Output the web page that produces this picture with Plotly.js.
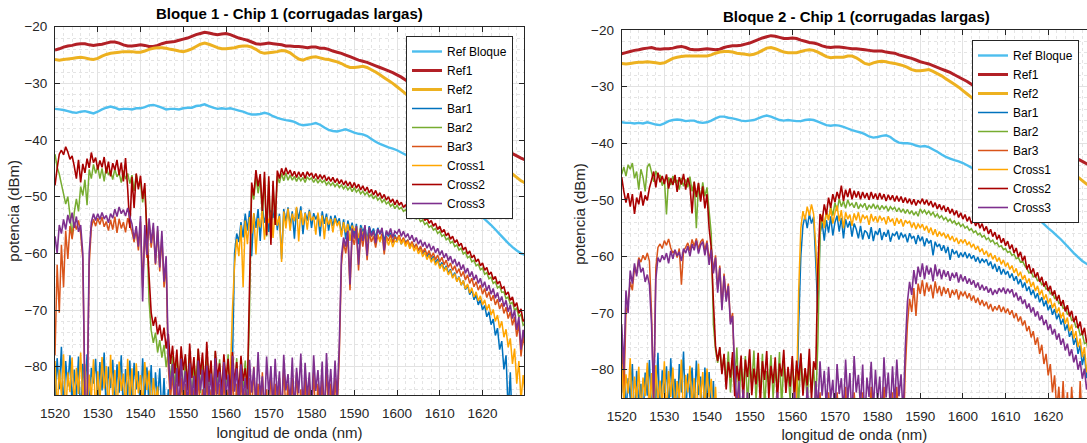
<!DOCTYPE html>
<html><head><meta charset="utf-8">
<script src="https://cdn.plot.ly/plotly-3.0.1.min.js"></script>
<style>html,body{margin:0;padding:0;background:#fff}#chart{width:1087px;height:443px}</style>
</head><body><div id="chart"></div>
<script>
// ---------- series names / colours ----------
const seriesNames = ['Ref Bloque','Ref1','Ref2','Bar1','Bar2','Bar3','Cross1','Cross2','Cross3'];
const seriesColors = ['#4DBEEE','#B22026','#EDB120','#0072BD','#77AC30','#D95319','#FFA500','#A80000','#7E2F8E'];
const chartTitles = ['Bloque 1 - Chip 1 (corrugadas largas)','Bloque 2 - Chip 1 (corrugadas largas)'];
const xLabel = 'longitud de onda (nm)';
const yLabel = 'potencia (dBm)';
// wavelength sampling of the read values (nm)
const refStart = 1520, refStep = 1;     // reference curves: one value per nm
const scanStart = 1520, scanStep = 0.5; // device curves: one value per 0.5 nm

// ---------- Bloque 1 ----------
const L_refBloque = [-34.5,-34.6,-34.7,-34.9,-35.1,-35.2,-35.0,-34.9,-35.1,-35.3,-35.0,-34.6,-34.3,-34.1,-34.3,-34.6,-34.5,-34.5,-34.6,-34.4,-34.4,-34.2,-33.9,-33.8,-34.0,-34.3,-34.6,-34.5,-34.5,-34.6,-34.4,-34.3,-34.3,-34.0,-33.9,-33.7,-34.0,-34.3,-34.5,-34.4,-34.5,-34.4,-34.6,-34.8,-35.0,-35.3,-35.5,-35.5,-35.4,-35.2,-35.4,-35.8,-36.1,-36.3,-36.5,-36.6,-36.8,-37.2,-37.4,-37.3,-37.2,-37.0,-37.3,-37.8,-38.2,-38.4,-38.5,-38.3,-38.1,-38.4,-38.7,-38.9,-39.0,-39.3,-39.8,-40.3,-40.7,-41.0,-41.3,-41.5,-41.8,-42.2,-42.6,-43.0,-43.5,-44.0,-44.5,-45.0,-45.6,-46.2,-46.8,-47.4,-48.0,-48.6,-49.3,-50.0,-50.8,-51.5,-52.3,-53.0,-53.6,-54.3,-55.0,-55.8,-56.6,-57.4,-58.2,-58.9,-59.5,-60.0,-60.3];
const L_ref1 = [-24.1,-23.9,-23.6,-23.4,-23.3,-23.1,-23.0,-23.0,-23.2,-23.3,-23.2,-23.1,-22.9,-22.7,-22.7,-22.9,-23.2,-23.4,-23.4,-23.3,-23.2,-23.3,-23.5,-23.5,-23.3,-23.0,-22.8,-22.7,-22.6,-22.4,-22.2,-22.0,-21.7,-21.4,-21.2,-21.0,-21.1,-21.3,-21.4,-21.3,-21.2,-21.4,-21.7,-22.0,-22.2,-22.4,-22.7,-23.0,-23.1,-23.0,-22.9,-23.0,-23.1,-23.2,-23.4,-23.4,-23.5,-23.5,-23.6,-23.7,-23.6,-23.6,-23.8,-23.8,-24.0,-24.3,-24.5,-24.7,-25.0,-25.3,-25.6,-25.9,-26.1,-26.3,-26.6,-26.9,-27.2,-27.5,-27.8,-28.1,-28.5,-28.9,-29.4,-29.9,-30.4,-30.9,-31.4,-31.9,-32.4,-32.9,-33.4,-33.9,-34.4,-35.0,-35.6,-36.2,-36.8,-37.4,-38.0,-38.6,-39.2,-39.8,-40.4,-40.9,-41.4,-41.8,-42.1,-42.4,-42.8,-43.2,-43.5];
const L_ref2 = [-25.8,-25.9,-25.8,-25.7,-25.6,-25.5,-25.4,-25.5,-25.7,-25.8,-25.6,-25.2,-24.9,-24.7,-24.6,-24.5,-24.4,-24.4,-24.4,-24.5,-24.5,-24.3,-24.0,-23.8,-23.7,-23.7,-23.8,-24.0,-24.1,-24.3,-24.4,-24.2,-23.9,-23.5,-23.1,-22.9,-23.1,-23.4,-23.7,-23.9,-23.9,-23.8,-23.7,-23.5,-23.4,-23.4,-23.6,-24.0,-24.5,-24.7,-24.6,-24.5,-24.4,-24.2,-24.3,-24.6,-25.2,-25.7,-25.9,-25.6,-25.4,-25.3,-25.5,-25.7,-25.8,-26.0,-26.2,-26.5,-26.9,-27.2,-27.2,-27.1,-27.0,-27.2,-27.6,-28.0,-28.5,-29.0,-29.5,-30.0,-30.6,-31.2,-31.8,-32.4,-33.0,-33.6,-34.2,-34.8,-35.4,-36.0,-36.6,-37.2,-37.8,-38.4,-39.0,-39.6,-40.2,-40.8,-41.4,-42.0,-42.5,-43.0,-43.5,-44.0,-44.5,-45.0,-45.5,-46.0,-46.6,-47.2,-47.6];
const L_bar1 = [
-86,-78.5,-84,-76.5,-88,-79,-83.5,-78,-87,-80.5,
-85.5,-78.2,-90,-79.5,-84.5,-77.8,-88,-80.2,-83,-78.6,
-86.5,-79.2,-84.2,-77.5,-89,-80,-83.8,-78.8,-87.5,-79.6,
-84.6,-78,-88.5,-80.4,-85.2,-78.9,-86.8,-79.3,-84,-80.8,
-88.2,-78.5,-85.8,-80.1,-87,-79.7,-89.5,-81,-86,-80.3,
-88.8,-82,-90,-84,-92,-86,-93,-88,-92,-90,
-93,-90,-94,-91,-95,-92,-94,-90,-95,-92,
-94,-91,-95,-90,-93,-92,-95,-91,-94,-90,
-93,-89,-86,-80,-60,-56.5,-58,-54.5,-57.2,-53,
-56,-52.5,-60.5,-53,-55.5,-52.2,-57.8,-51.8,-54.6,-52.9,
-56.2,-52.4,-53.8,-51.6,-55.9,-53,-61,-52.2,-54.4,-51.9,
-55,-52.6,-57.4,-52,-53.9,-51.7,-56.6,-52.8,-54.2,-52.3,
-55.5,-52.9,-54,-53.1,-57,-52.6,-54.8,-53,-56,-53.4,
-55.2,-53.3,-54.7,-53.8,-56.8,-54,-57.5,-54.2,-56,-54.6,
-56.8,-54.8,-58.4,-55,-56.2,-55.3,-57.6,-55.2,-56.5,-55.6,
-57.3,-55.5,-56.6,-55.9,-57.8,-56.2,-57,-56.4,-58.2,-56.7,
-57.8,-57,-58.4,-57.4,-58,-57.7,-59,-58.1,-58.8,-58.6,
-59.5,-59,-60.1,-59.5,-60.6,-60,-61.2,-60.5,-61.7,-61,
-62.3,-61.6,-62.9,-62.2,-63.5,-62.8,-64.2,-63.4,-64.9,-64.1,
-65.6,-64.8,-66.4,-65.6,-67.3,-66.4,-68.2,-67.3,-69.1,-68.2,
-70,-69.2,-71.2,-70.3,-72.6,-71.6,-74.5,-73.2,-77,-75.5,
-80.5,-78,-88,-81,-92,-86,-95,-90,-95,-92,
-95];
const L_bar2 = [
-42.5,-44.8,-46,-47.8,-49.5,-51.3,-50,-53.2,-57.2,-52.8,
-50.4,-52.6,-48.2,-49.8,-47,-51.5,-45.2,-46.8,-44.3,-45.9,
-44.6,-46.8,-45,-47.3,-44.7,-46.2,-45.5,-47,-45.1,-46.5,
-45.8,-47.5,-45.4,-46.9,-45.9,-47.7,-46.2,-49,-46,-48.3,
-47.4,-51,-48.5,-56,-68.5,-73.6,-75.8,-74,-77.5,-75.3,
-78.4,-76.2,-80.1,-77.5,-82.6,-78.1,-84,-77.9,-82.8,-79.5,
-85.5,-78.4,-83.1,-77.6,-86.2,-79.1,-82.4,-76.9,-84.7,-78.8,
-86.4,-78,-83.3,-79.6,-87.1,-77.3,-84.5,-78.7,-85.9,-79.9,
-83.2,-77.8,-86.8,-79.2,-84.1,-78.5,-87.3,-80,-83.6,-78.9,
-85,-70,-48.6,-50.5,-46.4,-49.4,-47,-53.5,-46.6,-57,
-47.3,-57.5,-48,-54.6,-46.4,-47.6,-45.9,-47.2,-45.8,-47.1,
-46.2,-47.1,-46.4,-47.3,-46.5,-47.2,-46.6,-47.5,-46.5,-47,
-46.7,-47.5,-46.8,-47.6,-47,-47.5,-47.1,-47.9,-47.4,-48,
-47.5,-48.2,-47.7,-48.4,-47.9,-48.6,-48.1,-48.8,-48.3,-49.1,
-48.4,-49.2,-48.7,-49.5,-49,-49.7,-49.2,-50,-49.6,-50.4,
-49.8,-50.6,-50.2,-51,-50.5,-51.3,-50.9,-51.7,-51.3,-52.1,
-51.5,-52.2,-51.9,-52.6,-52.3,-53.1,-52.7,-53.5,-53.2,-53.9,
-53.6,-54.4,-54.1,-54.9,-54.6,-55.4,-55.1,-55.9,-55.6,-56.5,
-56.1,-57,-56.7,-57.6,-57.3,-58.2,-57.9,-58.8,-58.5,-59.4,
-59.1,-60.1,-59.8,-60.8,-60.5,-61.5,-61.2,-62.2,-61.9,-62.9,
-62.6,-63.7,-63.4,-64.5,-64.2,-65.3,-65,-66.1,-65.8,-66.9,
-66.8,-68,-67.7,-69,-68.6,-70.1,-69.6,-71.3,-70.7,-72.7,
-72.4];
const L_bar3 = [
-78,-62,-70.5,-58.5,-66,-56,-61,-55.2,-57.5,-54.6,
-55.8,-54.2,-56.5,-61,-86,-88,-62,-55.5,-54,-55.2,
-53.8,-54.9,-53.6,-55.3,-54.4,-56,-54.1,-55.8,-53.5,-56.4,
-53.9,-55.6,-54.5,-56.3,-53.8,-55,-56.2,-58,-55.8,-59.5,
-54.4,-66,-56.1,-60.8,-54.5,-59,-55.5,-62,-56,-63.2,
-57,-66,-62,-80,-86,-81,-89,-83,-90,-82,
-88,-83,-91,-82,-89,-84,-92,-81,-88,-84,
-90,-82,-88,-84,-91,-81,-89,-83,-90,-82,
-88,-84,-91,-81,-89,-83,-90,-82,-88,-84,
-91,-82,-89,-80,-88,-83,-90,-81,-89,-84,
-90,-81,-88,-83,-91,-82,-89,-80,-88,-83,
-90,-82,-89,-81,-88,-84,-91,-82,-89,-83,
-88,-81,-90,-83,-89,-82,-91,-80,-88,-83,
-90,-82,-88,-78,-62,-58,-60,-57,-66.5,-56.8,
-58.5,-56.2,-63,-56.6,-58.8,-56,-61.2,-56.4,-58,-57,
-59,-56.8,-57.6,-56.5,-60.2,-57,-57.8,-56.7,-58.1,-57.1,
-57.5,-56.8,-58,-57.2,-58.3,-57.6,-58.7,-57.9,-59.1,-58.3,
-59.5,-58.7,-59.9,-59.1,-60.3,-59.5,-60.7,-59.9,-61.1,-60.3,
-61.5,-60.7,-62,-61.2,-62.5,-61.7,-63,-62.2,-63.5,-62.7,
-64.1,-63.2,-64.7,-63.8,-65.3,-64.4,-65.9,-65,-66.5,-65.6,
-67.2,-66.2,-67.8,-66.8,-68.4,-67.4,-69.1,-68.1,-69.8,-68.8,
-70.6,-69.5,-71.5,-70.3,-72.7,-71.2,-74.7,-72.4,-78.2,-74.7,
-77];
const L_cross1 = [
-79,-88,-80.5,-85,-77.8,-89,-81,-84.5,-78.4,-87,
-80.2,-84.8,-77.5,-86.5,-79.6,-90,-81.4,-85.6,-78.7,-88.4,
-80.8,-86.2,-78.3,-83.9,-79.9,-88.6,-77.9,-85.1,-80.6,-89.2,
-79.1,-84.3,-81.2,-87.7,-78.6,-85.9,-80.3,-89.8,-79.4,-84.7,
-81.5,-87.4,-79.2,-84.1,-80.7,-88.9,-82,-86.3,-83.5,-90,
-85,-91,-88,-93,-90,-94,-92,-95,-93,-94,
-95,-92,-94,-93,-95,-91,-94,-92,-95,-93,
-94,-92,-95,-91,-94,-93,-95,-92,-94,-91,
-92,-88,-82,-70,-62,-57.5,-60.5,-55,-66,-54.2,
-58.4,-53.6,-56.5,-52.9,-60.2,-53.8,-55.4,-52.5,-57.6,-53.1,
-54.6,-52.8,-57.3,-52,-55.1,-53.4,-61.5,-52.6,-55.6,-52.1,
-56,-53,-54.3,-51.8,-57.9,-52.4,-55,-52.9,-55.8,-52.6,
-54.2,-53.5,-56.7,-52.8,-55.3,-53.3,-57.5,-53.6,-54.9,-53.9,
-56.3,-53.8,-55.2,-54.3,-57.1,-54.5,-56.3,-54.8,-57.8,-55.1,
-56,-55.2,-57.3,-55.5,-56.8,-55.8,-58,-56,-57.1,-56.3,
-57.6,-56.6,-58,-56.9,-58.4,-57.2,-58.6,-57.4,-58.9,-57.8,
-58,-57.1,-58.4,-57.5,-58.8,-57.9,-59.2,-58.3,-59.6,-58.8,
-60.1,-59.3,-60.6,-59.8,-61.1,-60.3,-61.6,-60.8,-62.1,-61.3,
-62.7,-61.9,-63.2,-62.4,-63.8,-63,-64.4,-63.6,-65,-64.2,
-65.6,-64.8,-66.3,-65.4,-67,-66.1,-67.7,-66.8,-68.4,-67.5,
-69.1,-68.2,-70,-69,-70.9,-69.9,-72,-70.9,-73.2,-72,
-74.8,-73.4,-76.6,-75,-79.5,-76.8,-83,-79,-86,-81.5,
-85];
const L_cross2 = [
-48,-45,-42.5,-41.8,-42.6,-41.2,-42.1,-43.4,-42.8,-44.6,
-46.8,-43.5,-47.5,-44.2,-45.8,-43.3,-44.9,-42.2,-44,-43.1,
-45.2,-43.6,-44.8,-43,-45.9,-43.8,-46.4,-44.1,-45.3,-43.5,
-46.2,-44,-47.3,-43.2,-48.6,-55.5,-46.5,-52,-45.9,-48.7,
-46.3,-50.4,-47.6,-56.8,-64,-70.5,-72.8,-71.2,-74.3,-72.6,
-75.4,-73.1,-76.8,-74.2,-79.5,-76.3,-81.2,-77,-83.5,-76.4,
-80.6,-77.8,-84.2,-75.9,-82,-78.3,-85.5,-76.8,-81.4,-77.5,
-83.8,-75.6,-82.7,-78.9,-86,-77.2,-81.9,-79.4,-84.6,-77.8,
-82.3,-78.6,-85.2,-77.4,-83,-79.2,-84.8,-78.1,-82.5,-80.3,
-84,-66,-47.5,-49.8,-45.3,-48.2,-46,-52.5,-45.6,-56.8,
-46.4,-58.5,-47.2,-55,-45.4,-46.8,-45,-46.2,-44.9,-46,
-45.3,-46.4,-45.5,-46.6,-45.6,-46.5,-45.7,-46.8,-45.6,-46.3,
-45.8,-46.8,-45.9,-46.9,-46.1,-46.8,-46.2,-47.2,-46.5,-47.3,
-46.6,-47.5,-46.8,-47.7,-47,-47.9,-47.2,-48.1,-47.4,-48.4,
-47.5,-48.5,-47.8,-48.8,-48.1,-49,-48.3,-49.3,-48.7,-49.7,
-48.9,-49.9,-49.3,-50.3,-49.6,-50.6,-50,-51,-50.4,-51.4,
-50.6,-51.5,-51,-51.9,-51.4,-52.4,-51.8,-52.8,-52.3,-53.2,
-52.7,-53.7,-53.2,-54.2,-53.7,-54.7,-54.2,-55.2,-54.7,-55.8,
-55.2,-56.3,-55.8,-56.9,-56.4,-57.5,-57,-58.1,-57.6,-58.7,
-58.2,-59.4,-58.9,-60.1,-59.6,-60.8,-60.3,-61.5,-61,-62.2,
-61.7,-63,-62.5,-63.8,-63.3,-64.6,-64.1,-65.4,-64.9,-66.2,
-65.9,-67.3,-66.8,-68.3,-67.7,-69.4,-68.7,-70.6,-69.8,-72,
-71.5];
const L_cross3 = [
-57,-60,-55,-56.5,-54,-55.8,-53.2,-54.7,-52.8,-55.5,
-53.5,-56.2,-55,-60,-85,-88,-60,-54.5,-53,-54.2,
-53,-54,-52.8,-53.9,-53.3,-54.6,-53,-53.8,-52.2,-53.5,
-51.8,-53,-52.3,-53.4,-52,-53.6,-54.8,-57.5,-55.2,-58.8,
-53.4,-68.5,-55,-60.3,-53.8,-58.2,-54.6,-61.8,-55.2,-62.5,
-56,-65,-60.5,-78,-84,-79.5,-86,-80.2,-88,-78.6,
-84.5,-80.8,-87.2,-79.4,-85.8,-81.6,-89,-78.9,-84.2,-80.5,
-87.6,-79.8,-85.3,-81.2,-88.4,-78.5,-84.9,-80.9,-86.7,-79.2,
-85.1,-81.4,-88.9,-78.1,-84.4,-80.3,-87.2,-79.6,-85.6,-82,
-88.2,-78.8,-84.6,-80.1,-86.9,-77.4,-85.3,-81.7,-88.5,-78.2,
-84.9,-79.9,-87.4,-78.6,-85.8,-80.8,-89.1,-77.9,-84.2,-81.3,
-86.6,-78.4,-88,-80.2,-84.7,-77.7,-87.8,-79.3,-85.4,-81,
-88.7,-78,-84.3,-80.6,-86.2,-79.1,-89.4,-77.6,-85,-80.4,
-87.1,-78.9,-85.8,-76,-60.5,-57.2,-58.8,-56,-65.5,-55.6,
-57.4,-55.2,-62,-55.6,-57.8,-55,-60.4,-55.4,-57,-56,
-58.2,-55.7,-56.6,-55.5,-59.5,-56,-56.8,-55.6,-57.2,-56.1,
-56.5,-55.7,-57,-56.1,-57.2,-56.5,-57.6,-56.8,-58,-57.2,
-58.4,-57.6,-58.8,-58,-59.1,-58.3,-59.5,-58.7,-59.9,-59.1,
-60.3,-59.5,-60.8,-60,-61.3,-60.5,-61.8,-61,-62.3,-61.5,
-62.9,-62,-63.5,-62.6,-64.1,-63.2,-64.7,-63.8,-65.3,-64.4,
-66,-65,-66.6,-65.6,-67.2,-66.2,-67.9,-66.9,-68.6,-67.6,
-69.4,-68.3,-70.3,-69.1,-71.5,-70,-73.5,-71.2,-77,-73.5,
-76];

// ---------- Bloque 2 ----------
const R_refBloque = [-36.3,-36.4,-36.4,-36.5,-36.4,-36.5,-36.3,-36.5,-36.7,-36.8,-36.5,-36.1,-35.9,-35.8,-35.9,-36.1,-36.0,-36.0,-36.3,-36.4,-36.3,-36.0,-35.6,-35.3,-35.3,-35.5,-35.6,-35.8,-36.0,-36.1,-36.0,-35.9,-35.6,-35.3,-35.1,-35.3,-35.6,-35.9,-36.0,-35.9,-36.0,-36.1,-36.1,-35.9,-35.8,-35.9,-36.2,-36.5,-36.8,-36.9,-36.8,-36.9,-37.1,-37.4,-37.7,-37.9,-38.1,-38.4,-38.8,-39.0,-38.9,-38.7,-38.6,-38.9,-39.5,-39.9,-40.0,-40.0,-40.1,-40.4,-40.6,-40.5,-40.7,-41.1,-41.5,-42.0,-42.4,-42.7,-43.0,-43.2,-43.5,-43.9,-44.3,-44.8,-45.3,-45.8,-46.3,-46.8,-47.4,-48.0,-48.6,-49.2,-49.8,-50.4,-51.0,-51.7,-52.3,-52.9,-53.6,-54.3,-55.0,-55.6,-56.3,-57.0,-57.8,-58.6,-59.4,-60.1,-60.8,-61.3,-61.7];
const R_ref1 = [-24.2,-24.0,-23.8,-23.6,-23.5,-23.3,-23.2,-23.1,-23.3,-23.4,-23.3,-23.3,-23.2,-23.0,-22.9,-23.1,-23.4,-23.5,-23.5,-23.4,-23.3,-23.4,-23.5,-23.4,-23.1,-22.9,-22.8,-22.8,-22.7,-22.5,-22.3,-22.0,-21.7,-21.4,-21.2,-21.0,-21.1,-21.3,-21.5,-21.5,-21.4,-21.5,-21.8,-22.0,-22.2,-22.3,-22.5,-22.8,-23.0,-23.1,-23.0,-23.0,-23.1,-23.2,-23.3,-23.3,-23.4,-23.5,-23.6,-23.7,-23.7,-23.7,-23.9,-24.0,-24.1,-24.4,-24.6,-24.8,-25.0,-25.3,-25.6,-25.8,-26.0,-26.3,-26.6,-26.9,-27.2,-27.5,-27.9,-28.3,-28.7,-29.1,-29.6,-30.1,-30.6,-31.1,-31.6,-32.1,-32.6,-33.1,-33.6,-34.1,-34.6,-35.2,-35.8,-36.4,-37.0,-37.6,-38.2,-38.8,-39.4,-40.0,-40.5,-41.0,-41.5,-42.0,-42.4,-42.8,-43.2,-43.6,-44.0];
const R_ref2 = [-25.9,-26.0,-25.9,-25.8,-25.7,-25.7,-25.6,-25.7,-25.8,-25.9,-25.8,-25.4,-25.0,-24.8,-24.7,-24.6,-24.6,-24.6,-24.6,-24.6,-24.6,-24.4,-24.1,-23.9,-23.8,-23.8,-23.9,-24.1,-24.2,-24.3,-24.4,-24.3,-24.0,-23.6,-23.2,-23.1,-23.3,-23.6,-23.9,-24.0,-24.0,-24.0,-23.8,-23.6,-23.5,-23.6,-23.9,-24.3,-24.7,-24.9,-24.8,-24.8,-24.8,-24.6,-24.6,-24.9,-25.4,-25.9,-26.1,-25.8,-25.6,-25.5,-25.6,-25.8,-25.9,-26.1,-26.3,-26.6,-27.0,-27.2,-27.2,-27.1,-27.0,-27.3,-27.7,-28.1,-28.6,-29.1,-29.6,-30.1,-30.7,-31.3,-31.9,-32.5,-33.1,-33.7,-34.3,-34.9,-35.5,-36.1,-36.7,-37.3,-37.9,-38.5,-39.1,-39.7,-40.3,-40.9,-41.5,-42.0,-42.5,-43.0,-43.5,-44.0,-44.5,-45.0,-45.5,-46.0,-46.6,-47.2,-47.6];
const R_bar1 = [
-84,-77.8,-88,-81.5,-85,-79,-90,-80.2,-86,-82.5,
-89,-80.5,-84.6,-78.3,-88.2,-81,-85.4,-77,-89.5,-80.1,
-84.2,-79.4,-87.6,-78,-85.5,-81.6,-89.4,-79,-84,-76.8,
-88.7,-80.7,-85,-79.6,-87.3,-78.4,-84.5,-81.2,-89.8,-79.6,
-86,-80.4,-88.5,-82,-91,-85,-93,-88,-94,-90,
-93,-90,-95,-91,-94,-92,-95,-90,-94,-92,
-95,-91,-94,-92,-95,-90,-94,-91,-95,-92,
-94,-90,-95,-92,-94,-91,-95,-90,-94,-92,
-95,-91,-88,-72,-60,-54.5,-52.8,-55,-52.5,-54.2,
-53,-61,-70,-56,-54,-57.2,-53.6,-55.8,-52.9,-56.3,
-54,-52.8,-55.6,-53.2,-56.8,-53.4,-54.9,-53.8,-56.5,-54.2,
-55.2,-56.8,-54.6,-57,-55.4,-55.8,-56.9,-54.8,-57.3,-55.5,
-56.2,-55,-57.1,-55.7,-56.5,-55.3,-57.4,-56,-56.3,-55.6,
-57,-55.8,-56.6,-56.1,-57.5,-55.9,-56.8,-56.4,-57.8,-56.2,
-57.3,-56.5,-58.2,-56.8,-57.7,-57.1,-59.8,-57.4,-58.3,-57.8,
-59,-58,-59.4,-58.3,-60.6,-58.7,-59.6,-59,-60.2,-59.3,
-60.1,-59.2,-60.3,-59.5,-60.4,-59.8,-60.9,-60.1,-61.2,-60.4,
-61,-60.5,-61.6,-60.9,-62.2,-61.3,-62.7,-61.7,-63.2,-62.2,
-63.2,-62.6,-63.8,-63,-64.3,-63.5,-64.9,-64,-65.5,-64.6,
-66.1,-65.3,-66.8,-65.9,-67.4,-66.5,-68.1,-67.2,-68.8,-67.8,
-69.5,-68.6,-70.3,-69.3,-71.1,-70.1,-72,-71,-73.1,-72,
-74.2,-73.2,-75.6,-74.4,-77.2,-75.7,-79.2,-77.2,-81.5,-79,
-82];
const R_bar2 = [
-45.5,-44.2,-45.8,-43.8,-44.6,-43.5,-46.2,-45,-48.2,-44.6,
-46,-48.5,-44.2,-43.6,-45.1,-46.8,-44.9,-46,-45.6,-47.5,
-46.3,-52.6,-46,-47.4,-45.8,-47,-46.5,-48.2,-46.1,-47.6,
-46.4,-47.8,-45.9,-48.5,-46.8,-55,-47.1,-50,-46.9,-49.4,
-47.8,-52,-56,-72,-76.5,-78.8,-76.2,-80.5,-77.4,-82.1,
-76.8,-84,-78.3,-81.6,-76.1,-85.8,-79,-83.2,-77.6,-86.2,
-78.9,-82.6,-76.6,-85.4,-79.5,-83.9,-77.2,-86.8,-80.2,-82.3,
-77.4,-85,-79.8,-83.5,-76.9,-86.5,-78.6,-82.8,-80.6,-85.3,
-78,-84.1,-79.2,-86,-77.3,-83.4,-80,-85.6,-78.4,-84,
-79.5,-86,-75,-56,-53,-54.5,-52,-53.5,-51.2,-52.8,
-50.5,-52,-49.8,-51.2,-50.2,-51.5,-50,-51,-50.6,-51.4,
-50.4,-51.6,-50.8,-51.3,-50.6,-51.8,-50.9,-51.5,-50.7,-51.6,
-50.9,-51.8,-51,-51.6,-51.1,-52,-51.2,-51.7,-51.3,-52.1,
-51.4,-52.2,-51.6,-52.4,-51.7,-52.5,-51.9,-52.7,-52.1,-52.9,
-51.6,-52.3,-51.8,-52.5,-52,-52.7,-52.2,-53,-52.5,-53.2,
-52.8,-53.5,-53.1,-53.8,-53.4,-54.1,-53.7,-54.4,-54,-54.7,
-54.3,-55,-54.7,-55.4,-55.1,-55.8,-55.5,-56.2,-55.9,-56.6,
-56.3,-57,-56.7,-57.4,-57.1,-57.8,-57.6,-58.3,-58.1,-58.8,
-58.6,-59.3,-59.1,-59.8,-59.6,-60.4,-60.2,-61,-60.8,-61.6,
-62.1,-62.9,-62.7,-63.6,-63.4,-64.3,-64.1,-65,-64.8,-65.8,
-65.6,-66.6,-66.4,-67.4,-67.2,-68.3,-68.1,-69.2,-69,-70.2,
-70,-71.3,-71.1,-72.5,-72.3,-73.9,-73.6,-75.4,-75.2,-77.2,
-78];
const R_bar3 = [
-75,-85,-70,-68,-64.5,-66,-62,-63,-60.2,-61,
-59.8,-60.6,-59.4,-60.8,-70,-86,-62,-58.4,-57.8,-58.6,
-57.2,-58,-56.9,-58.5,-59.4,-58.9,-60.2,-58.6,-65,-59,
-58.4,-57.6,-59,-57,-58.2,-56.8,-58.7,-57.4,-56.9,-58.9,
-57.2,-60.8,-58.4,-62.5,-59.8,-65.8,-61.6,-69,-63,-67.5,
-64.8,-71.5,-70,-82,-88,-84,-91,-86,-92,-87,
-93,-88,-91,-89,-94,-87,-92,-88,-95,-87,
-91,-88,-93,-86,-90,-88,-94,-87,-91,-88,
-92,-86,-90,-88,-93,-87,-91,-85,-89,-88,
-91,-86,-89,-84,-90,-85,-92,-84,-89,-86,
-91,-84,-89,-86,-92,-83,-90,-85,-93,-84,
-89,-85,-91,-84,-93,-86,-89,-83,-91,-85,
-90,-86,-92,-83,-89,-85,-91,-84,-90,-83,
-89,-85,-92,-80,-72,-67.5,-69.8,-65.6,-70.5,-64.8,
-66.6,-64.2,-67,-64.6,-66.2,-65,-67.4,-64.4,-66.5,-65.2,
-67,-65.4,-66.6,-65.6,-67.3,-65.9,-66.8,-65.8,-67.6,-66.2,
-67,-66.2,-67.4,-66.5,-67.8,-66.9,-68.2,-67.3,-68.6,-67.7,
-68.8,-68,-69.3,-68.4,-69.7,-68.8,-69.5,-68.6,-69.8,-68.9,
-70,-69.2,-70.3,-69.5,-70.9,-70,-71.5,-70.6,-72.2,-71.3,
-73.2,-72.3,-74.3,-73.2,-75.6,-74.3,-77.2,-75.6,-79,-77.2,
-81,-79,-84,-81,-87,-83,-89,-82,-90,-84,
-91,-83,-89,-85,-92,-82,-90,-86,-93,-84,
-90];
const R_cross1 = [
-79,-86,-80.8,-84.2,-78,-89,-81.2,-85.5,-79.5,-88,
-81.4,-84.7,-78.8,-87.2,-80.6,-90,-79.2,-85.8,-81.9,-86.4,
-78.5,-88.6,-80.2,-84.8,-79.6,-87.4,-82,-85.2,-78.2,-89.2,
-80.9,-84,-79.3,-86.6,-81.5,-88.4,-78.9,-85.6,-80.4,-87.3,
-79.8,-84.9,-81.6,-89.5,-83,-91,-88,-93,-90,-94,
-92,-95,-91,-94,-93,-95,-92,-94,-91,-95,
-93,-95,-92,-94,-91,-95,-93,-94,-92,-95,
-91,-94,-93,-95,-92,-94,-91,-95,-93,-94,
-92,-95,-85,-66,-55,-52,-53.5,-51.2,-52.8,-50.8,
-52.5,-58,-66,-54,-52.6,-55,-52,-53.6,-51.5,-54.2,
-52.3,-51,-53.8,-51.8,-55,-52.2,-53.4,-52.6,-54.6,-52.4,
-53.6,-52.2,-54.1,-52.6,-53.3,-52.8,-54.4,-52.5,-53.8,-52.9,
-54,-52.8,-53.6,-53.1,-54.3,-52.9,-53.9,-53.3,-54.6,-53.2,
-54.2,-53.4,-54.7,-53.6,-54.1,-53.8,-54.9,-54,-55.2,-54.2,
-55,-54.3,-55.4,-54.6,-55.8,-54.9,-56.2,-55.2,-56.5,-55.6,
-56.4,-55.8,-56.8,-56.1,-57.1,-56.4,-57.4,-56.7,-57.8,-57,
-57.6,-57,-58,-57.4,-58.4,-57.8,-58.8,-58.2,-59.2,-58.6,
-59.7,-59,-60.1,-59.4,-60.5,-59.8,-60.9,-60.2,-61.4,-60.6,
-61.8,-61.1,-62.3,-61.6,-62.9,-62.1,-63.5,-62.7,-64.1,-63.3,
-64.7,-63.9,-65.4,-64.5,-66.1,-65.2,-66.8,-65.9,-67.6,-66.7,
-68.3,-67.4,-69.1,-68.2,-70,-69,-70.9,-69.9,-71.9,-70.8,
-73.2,-72,-74.5,-73.2,-76,-74.5,-77.8,-76,-80.5,-78,
-81];
const R_cross2 = [
-46,-48.5,-50.5,-48.8,-51.2,-49,-52.5,-49.6,-50.8,-48.5,
-51,-49.2,-50.1,-47.9,-46.5,-45,-47.8,-45.2,-46.9,-45.8,
-47.2,-45.5,-48,-46.2,-47.4,-45.6,-48.6,-46,-47.3,-45.4,
-48.2,-46.1,-47.5,-52.4,-46.8,-49.5,-47,-50.3,-47.6,-51.5,
-49,-55,-58.5,-68,-75.8,-78.5,-76,-80.8,-77.2,-83.5,
-78.6,-81.4,-76.9,-84.7,-79.3,-82,-77.5,-85.9,-78.2,-81.3,
-76.4,-84.5,-79.8,-82.6,-77,-86,-78.5,-81.8,-76.7,-85,
-79.3,-82.4,-77.8,-85.5,-78.9,-81.2,-76.5,-84.1,-79.5,-83,
-77.6,-85.2,-78.4,-81.9,-77.1,-84.6,-79.7,-82.8,-76.3,-85.3,
-78.5,-80,-62,-52.5,-53.8,-50.8,-52.6,-49.6,-51.4,-49,
-50.4,-48.6,-49.8,-47.5,-50.2,-48.2,-49.5,-48,-49.9,-48.4,
-49.6,-48.5,-49.9,-48.6,-49.7,-48.8,-50,-48.6,-49.8,-48.9,
-50,-48.8,-49.9,-49,-50.2,-49.1,-50,-49.2,-50.3,-49.3,
-50.3,-49.4,-50.5,-49.6,-50.6,-49.8,-50.8,-49.9,-51,-50.1,
-50.6,-49.8,-50.8,-50,-51,-50.2,-51.3,-50.5,-51.6,-50.8,
-51.8,-51,-52.1,-51.3,-52.4,-51.6,-52.7,-51.9,-53.1,-52.3,
-53.4,-52.6,-53.8,-53,-54.2,-53.4,-54.6,-53.8,-55,-54.2,
-55.5,-54.7,-56,-55.2,-56.5,-55.7,-57,-56.2,-57.6,-56.8,
-58.1,-57.3,-58.7,-57.9,-59.4,-58.5,-60.1,-59.2,-60.8,-59.9,
-62.3,-61.4,-63,-62.1,-63.7,-62.8,-64.5,-63.6,-65.3,-64.4,
-66.1,-65.2,-66.9,-66,-67.8,-66.8,-68.7,-67.7,-69.7,-68.6,
-70.6,-69.6,-71.6,-70.5,-72.7,-71.5,-73.9,-72.6,-75.2,-73.8,
-76];
const R_cross3 = [
-72,-80,-66,-70,-62.5,-64.8,-61.2,-63.5,-60.5,-62.8,
-62,-64.5,-63.2,-65,-72,-86,-64,-60.2,-61,-59.8,
-60.6,-59.4,-61.2,-59,-60.4,-58.8,-59.9,-59.2,-60.8,-58.6,
-59.4,-58.2,-60,-57.8,-58.9,-57.2,-59.5,-58,-57.4,-59.8,
-57.6,-61.5,-58.8,-63,-60.2,-66.4,-62,-69.5,-63.4,-68,
-65.2,-72,-70.5,-80,-86,-82,-89,-83.5,-91,-84,
-92,-86,-90,-88,-93,-85,-91,-87,-94,-86,
-90,-86,-92,-84,-89,-87,-93,-85,-90,-86,
-91,-84,-89,-86,-92,-85,-90,-83,-88,-86,
-90,-82,-87,-78.5,-84.6,-80.2,-86.8,-79.5,-85.1,-81.8,
-88.2,-79,-84.3,-81.5,-87.6,-78.2,-85.5,-80.6,-88.9,-77.6,
-84,-80.9,-86.5,-79.1,-89.3,-81.4,-84.8,-78.6,-87.2,-80,
-85.6,-81.2,-88.4,-77.8,-84.9,-80.5,-87,-79.4,-86.3,-78.2,
-84.7,-80.8,-88.1,-76,-68,-64.5,-66.8,-62.4,-64.9,-61.8,
-63.6,-61.2,-64,-61.6,-63.2,-62,-64.4,-61.4,-63.5,-62.2,
-64,-62.4,-63.6,-62.6,-64.3,-62.9,-63.8,-62.8,-64.6,-63.2,
-64.4,-63.5,-64.8,-63.9,-65,-64.2,-65.5,-64.6,-65.9,-65,
-66,-65.3,-66.4,-65.6,-66.8,-65.9,-66.6,-65.6,-66.3,-65.5,
-66.6,-65.7,-66.4,-65.8,-67.2,-66.4,-67.8,-67,-68.4,-67.6,
-69.2,-68.3,-69.9,-69,-70.6,-69.7,-71.3,-70.4,-72.1,-71.2,
-73,-72,-73.8,-72.8,-74.7,-73.6,-75.6,-74.5,-76.6,-75.4,
-77.6,-76.4,-78.7,-77.4,-80,-78.5,-81.6,-79.8,-83.5,-81.2,
-84];

// ---------- build figure ----------
const W = 1087, H = 443;
const lineWidths = [2.4, 3.0, 3.0, 1.5, 1.5, 1.5, 1.5, 1.6, 1.6];
const leftSeries  = [L_refBloque, L_ref1, L_ref2, L_bar1, L_bar2, L_bar3, L_cross1, L_cross2, L_cross3];
const rightSeries = [R_refBloque, R_ref1, R_ref2, R_bar1, R_bar2, R_bar3, R_cross1, R_cross2, R_cross3];

function makeTraces(series, xa, ya, legendId){
  return series.map((vals, i) => {
    const isRef = i < 3;
    return {
      type: 'scatter', mode: 'lines',
      y: vals,
      x0: isRef ? refStart : scanStart,
      dx: isRef ? refStep : scanStep,
      name: seriesNames[i],
      xaxis: xa, yaxis: ya, legend: legendId,
      line: {color: seriesColors[i], width: lineWidths[i], simplify: false},
      hoverinfo: 'skip'
    };
  });
}
const traces = makeTraces(leftSeries, 'x', 'y', 'legend')
  .concat(makeTraces(rightSeries, 'x2', 'y2', 'legend2'));

const FONT = '"Liberation Sans", Arial, Helvetica, sans-serif';
function xAxis(domain, range, anchor){
  return {
    domain: domain, range: range, anchor: anchor, autorange: false,
    tickmode: 'linear', tick0: 1520, dtick: 10,
    ticks: 'inside', ticklen: 5, tickwidth: 1, tickcolor: '#262626',
    showline: true, linecolor: '#262626', linewidth: 1, mirror: 'ticks',
    showgrid: true, gridcolor: '#E2E2E2', gridwidth: 1, zeroline: false,
    minor: {tick0: 1520, dtick: 2, showgrid: true, gridcolor: '#E4E4E4', griddash: 'dot', gridwidth: 1},
    tickfont: {family: FONT, size: 13.5, color: '#262626'},
    ticklabelstandoff: 6,
    title: {text: xLabel, font: {family: FONT, size: 15, color: '#262626'}, standoff: 7}
  };
}
function yAxis(domain, anchor, mirror){
  return {
    domain: domain, range: [-85, -20], anchor: anchor, autorange: false,
    tickmode: 'linear', tick0: -20, dtick: 10,
    ticks: 'inside', ticklen: 5, tickwidth: 1, tickcolor: '#262626',
    showline: true, linecolor: '#262626', linewidth: 1, mirror: mirror,
    showgrid: true, gridcolor: '#E2E2E2', gridwidth: 1, zeroline: false,
    minor: {tick0: -20, dtick: 2, showgrid: true, gridcolor: '#E4E4E4', griddash: 'dot', gridwidth: 1},
    tickfont: {family: FONT, size: 13.5, color: '#262626'},
    ticklabelstandoff: 4,
    title: {text: yLabel, font: {family: FONT, size: 15, color: '#262626'}, standoff: 1}
  };
}
function legendBox(xRight, yTop){
  return {
    x: xRight / W, xanchor: 'right', y: (H - yTop) / H, yanchor: 'top',
    bgcolor: '#FFFFFF', bordercolor: '#262626', borderwidth: 1,
    font: {family: FONT, size: 12, color: '#000000'},
    tracegroupgap: 0, itemwidth: 30
  };
}

const layout = {
  width: W, height: H,
  margin: {l: 0, r: 0, t: 0, b: 0},
  paper_bgcolor: '#FFFFFF', plot_bgcolor: '#FFFFFF',
  font: {family: FONT, color: '#262626'},
  showlegend: true,
  xaxis:  xAxis([55 / W, 524 / W], [1520, 1629.7], 'y'),
  yaxis:  yAxis([(H - 395) / H, (H - 26.7) / H], 'x', 'ticks'),
  xaxis2: xAxis([621.7 / W, 1], [1520, 1629.1], 'y2'),
  yaxis2: yAxis([(H - 398) / H, (H - 30) / H], 'x2', false),
  legend:  legendBox(513, 36),
  legend2: legendBox(1079, 40),
  annotations: [
    {text: '<b>' + chartTitles[0] + '</b>', xref: 'paper', yref: 'paper',
     x: ((55 + 524) / 2) / W, y: (H - 14) / H, xanchor: 'center', yanchor: 'middle',
     showarrow: false, font: {family: FONT, size: 15, color: '#000000'}},
    {text: '<b>' + chartTitles[1] + '</b>', xref: 'paper', yref: 'paper',
     x: ((621.7 + 1091) / 2) / W, y: (H - 17) / H, xanchor: 'center', yanchor: 'middle',
     showarrow: false, font: {family: FONT, size: 15, color: '#000000'}}
  ]
};

Plotly.newPlot('chart', traces, layout, {displayModeBar: false, staticPlot: true});
</script>
</body></html>
